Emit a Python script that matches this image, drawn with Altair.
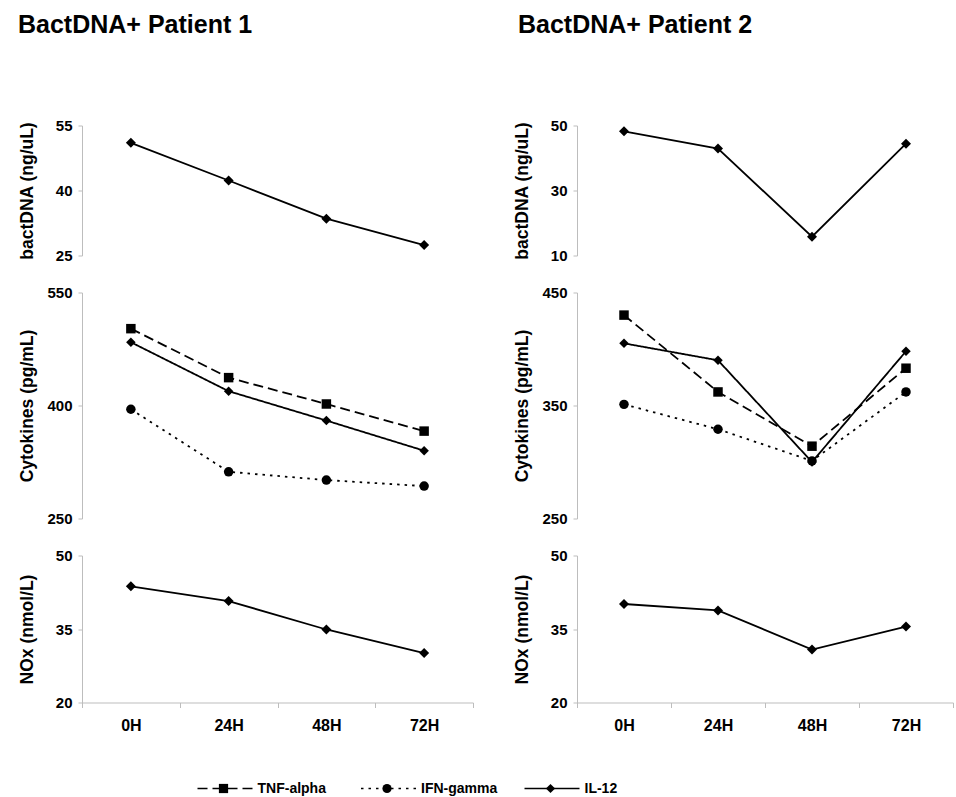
import altair as alt
import pandas as pd

# ---------------- data ----------------
times = ["0H", "24H", "48H", "72H"]
cytokines = ["TNF-alpha", "IFN-gamma", "IL-12"]

p1_bactdna = [51.0, 42.3, 33.5, 27.4]
p2_bactdna = [48.2, 42.9, 15.8, 44.4]

p1_tnf = [502, 437, 402, 366]
p1_ifn = [395, 312, 301, 293]
p1_il12 = [484, 419, 380, 340]

p2_tnf = [430, 362, 314, 383]
p2_ifn = [351, 329, 301, 362]
p2_il12 = [405, 390, 300, 398]

p1_nox = [43.7, 40.7, 34.9, 30.1]
p2_nox = [40.1, 38.8, 30.8, 35.5]

titles = ["BactDNA+ Patient 1", "BactDNA+ Patient 2"]
y_titles = ["bactDNA (ng/uL)", "Cytokines (pg/mL)", "NOx (nmol/L)"]

# ---------------- styling ----------------
FONT = "Liberation Sans"
W1 = 391   # left column plot width
W2 = 376   # right column plot width (cut by the picture edge)
H_BACT, H_CYTO, H_NOX = 130, 226, 147
GRAY = "#bdbdbd"
dash_range = [[10, 5], [2.5, 5], [1, 0]]
shape_range = ["square", "circle", "diamond"]


def x_enc(show_axis):
    if show_axis:
        ax = alt.Axis(
            title=None, labelFont=FONT, labelFontSize=16, labelFontWeight="bold",
            labelColor="black", labelPadding=10, labelAngle=0, tickBand="extent",
            tickSize=5, tickColor=GRAY, domainColor=GRAY, grid=False,
        )
    else:
        ax = None
    return alt.X(
        "time:N", sort=times,
        scale=alt.Scale(type="band", domain=times, paddingInner=0, paddingOuter=0),
        axis=ax,
    )


def y_enc(title, domain, ticks, height):
    return alt.Y(
        "value:Q",
        scale=alt.Scale(domain=domain, nice=False, zero=False),
        axis=alt.Axis(
            values=ticks, title=title, format="d",
            titleFont=FONT, titleFontSize=17.5, titleFontWeight="bold", titleColor="black",
            titleAngle=270, titleX=-55, titleY=height / 2, titleAlign="center",
            titleBaseline="middle",
            labelFont=FONT, labelFontSize=15, labelFontWeight="bold", labelColor="black",
            labelPadding=6, tickSize=4, tickColor=GRAY, domainColor=GRAY, grid=False,
        ),
    )


def single_layers(vals, title, domain, ticks, height, show_x):
    df = pd.DataFrame({"time": times, "value": vals})
    base = alt.Chart(df).encode(x=x_enc(show_x), y=y_enc(title, domain, ticks, height))
    line = base.mark_line(color="black", strokeWidth=1.8)
    pts = base.mark_point(shape="diamond", filled=True, color="black", size=100, opacity=1)
    return [line, pts]


def dash_enc():
    return alt.StrokeDash("series:N", sort=cytokines,
                          scale=alt.Scale(domain=cytokines, range=dash_range), legend=None)


def shape_enc():
    return alt.Shape("series:N", sort=cytokines,
                     scale=alt.Scale(domain=cytokines, range=shape_range), legend=None)


def cyto_panel(tnf, ifn, il12, domain, ticks, height, width):
    df = pd.DataFrame({
        "time": times * 3,
        "series": [cytokines[0]] * 4 + [cytokines[1]] * 4 + [cytokines[2]] * 4,
        "value": tnf + ifn + il12,
    })
    base = alt.Chart(df).encode(x=x_enc(False), y=y_enc(y_titles[1], domain, ticks, height))
    line = base.mark_line(color="black", strokeWidth=1.8).encode(strokeDash=dash_enc())
    pts = base.mark_point(filled=True, color="black", size=90, opacity=1).encode(shape=shape_enc())
    return alt.layer(line, pts).properties(width=width, height=height)


def col_title(text, dx):
    return alt.TitleParams(
        text=text, anchor="start", font=FONT, fontSize=25, fontWeight="bold",
        color="black", offset=81, dx=dx,
    )


# ---------------- legend row (drawn from the cytokine names) ----------------
legend_df = pd.DataFrame({"series": cytokines})
LEG_Y = 48
lx = alt.X("series:N", sort=cytokines, bandPosition=0, axis=None,
           scale=alt.Scale(type="band", domain=cytokines, range=[115.5, 606],
                           paddingInner=0, paddingOuter=0))
leg_base = alt.Chart(legend_df).encode(x=lx)
leg_line = leg_base.mark_point(
    shape="M-1,0H1", size=3025, filled=False, stroke="black", strokeWidth=1.5,
    opacity=1, xOffset=27.5, yOffset=LEG_Y,
).encode(strokeDash=dash_enc())
leg_marker = leg_base.mark_point(
    filled=True, color="black", size=85, opacity=1, xOffset=26, yOffset=LEG_Y,
).encode(shape=shape_enc())
leg_text = leg_base.mark_text(
    align="left", baseline="middle", font=FONT, fontSize=14, fontWeight="bold",
    color="black", xOffset=60, yOffset=LEG_Y,
).encode(text="series:N")
legend_row = alt.layer(leg_line, leg_marker, leg_text).properties(width=W1, height=2)

# ---------------- panels ----------------
p1_b = alt.layer(*single_layers(p1_bactdna, y_titles[0], [25, 55], [25, 40, 55], H_BACT, False)).properties(
    width=W1, height=H_BACT, title=col_title(titles[0], 0))
p2_b = alt.layer(*single_layers(p2_bactdna, y_titles[0], [10, 50], [10, 30, 50], H_BACT, False)).properties(
    width=W2, height=H_BACT, title=col_title(titles[1], 5))
p1_c = cyto_panel(p1_tnf, p1_ifn, p1_il12, [250, 550], [250, 400, 550], H_CYTO, W1)
p2_c = cyto_panel(p2_tnf, p2_ifn, p2_il12, [250, 450], [250, 350, 450], H_CYTO, W2)
p1_n = alt.layer(*single_layers(p1_nox, y_titles[2], [20, 50], [20, 35, 50], H_NOX, True)).properties(
    width=W1, height=H_NOX)
p2_n = alt.layer(*single_layers(p2_nox, y_titles[2], [20, 50], [20, 35, 50], H_NOX, True)).properties(
    width=W2, height=H_NOX)

chart = (
    alt.concat(p1_b, p2_b, p1_c, p2_c, p1_n, p2_n, legend_row, columns=2,
               spacing={"row": 37, "column": 104}, bounds="flush")
    .properties(padding={"left": 18, "top": 12.5, "right": 0, "bottom": 0}, background="white")
    .configure_view(strokeWidth=0)
)

chart.save("out.html", embed_options={"renderer": "svg", "actions": False})
